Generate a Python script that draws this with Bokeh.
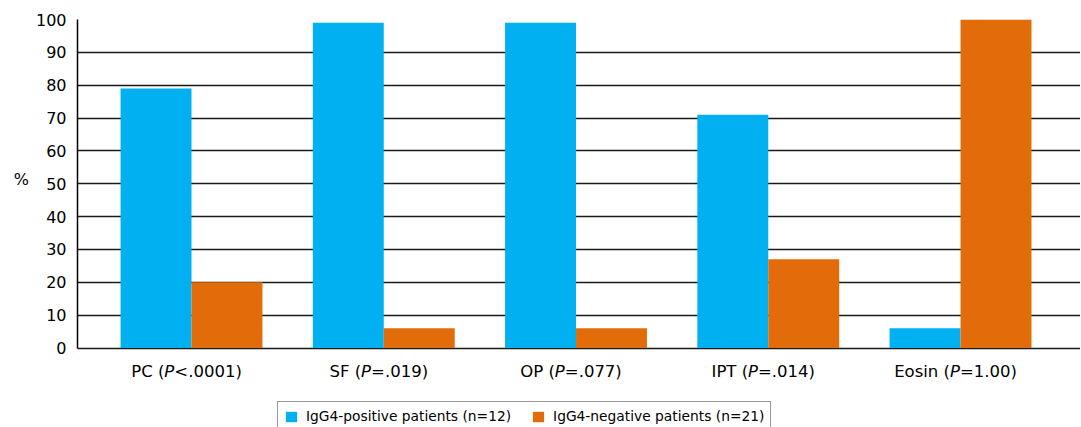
from bokeh.plotting import figure
from bokeh.models import Range1d, FixedTicker, Legend, LegendItem, ColumnDataSource
from bokeh.core.properties import value
from bokeh.embed import file_html
from bokeh.resources import INLINE

# ---- data ----
categories = ["PC", "SF", "OP", "IPT", "Eosin"]
p_texts = ["<.0001", "=.019", "=.077", "=.014", "=1.00"]
positive = [79, 99, 99, 71, 6]      # IgG4-positive patients (n=12), %
negative = [20, 6, 6, 27, 100]      # IgG4-negative patients (n=21), %
y_ticks = [0, 10, 20, 30, 40, 50, 60, 70, 80, 90, 100]
y_title = "%"
series_labels = ["IgG4-positive patients (n=12)", "IgG4-negative patients (n=21)"]

BLUE = "#00B0F0"
ORANGE = "#E36C0A"
FONT = "DejaVu Sans"
XFS = 16.5

# DejaVu Sans advance widths (em) used to lay out the mixed-style labels
W = {" ": .318, "(": .390, ")": .390, ".": .318, "<": .838, "=": .838,
     "C": .698, "E": .632, "F": .575, "I": .295, "O": .787, "P": .603,
     "S": .635, "T": .611, "i": .278, "n": .634, "o": .612, "s": .521}
for d in "0123456789":
    W[d] = .636

def tw(s, fs=XFS):
    return sum(W.get(c, .6) for c in s) * fs

idx = list(range(1, len(categories) + 1))
bw = 0.369
xb = [i - bw / 2 for i in idx]
xo = [i + bw / 2 for i in idx]

# frame: 100 units = 328.5 px; extra room below 0 holds the labels + legend
p = figure(width=1080, height=427, output_backend="svg", toolbar_location=None,
           x_range=Range1d(0.407, 5.624), y_range=Range1d(-24.2, 100),
           min_border_left=77, min_border_right=0, min_border_top=19,
           min_border_bottom=0)
p.outline_line_color = None
p.background_fill_color = "white"
p.xaxis.visible = False

rb = p.vbar(x=xb, top=positive, width=bw, bottom=0, fill_color=BLUE, line_color=None)
ro = p.vbar(x=xo, top=negative, width=bw, bottom=0, fill_color=ORANGE, line_color=None)

# y axis (blank lines lift the "%" to the middle of the 0-100 span)
p.yaxis.ticker = FixedTicker(ticks=y_ticks)
p.yaxis.bounds = (0, 100)
p.yaxis.axis_label = y_title + "\n \n \n \n "
p.yaxis.axis_label_orientation = "horizontal"
p.yaxis.axis_label_text_font = FONT
p.yaxis.axis_label_text_font_size = "16px"
p.yaxis.axis_label_text_line_height = 1.15
p.yaxis.axis_label_text_font_style = "normal"
p.yaxis.axis_label_text_color = "black"
p.yaxis.axis_label_standoff = 4
p.yaxis.major_label_text_font = FONT
p.yaxis.major_label_text_font_size = "16px"
p.yaxis.major_label_text_color = "black"
p.yaxis.major_label_standoff = 5
p.yaxis.major_tick_line_color = None
p.yaxis.minor_tick_line_color = None
p.yaxis.axis_line_color = "black"
p.yaxis.axis_line_width = 1.5

p.xgrid.grid_line_color = None
p.ygrid.grid_line_color = "#1a1a1a"
p.ygrid.grid_line_width = 1.3

# category labels with italic P
pre_t, p_t, suf_t, o_pre, o_p, o_suf = [], [], [], [], [], []
for cat, pt in zip(categories, p_texts):
    pre = cat + " ("
    suf = pt + ")"
    w_pre, w_p = tw(pre), tw("P")
    total = w_pre + w_p + tw(suf)
    x0 = -total / 2 - 5
    pre_t.append(pre); p_t.append("P"); suf_t.append(suf)
    o_pre.append(x0); o_p.append(x0 + w_pre); o_suf.append(x0 + w_pre + w_p)

zeros = [0] * len(idx)
src = ColumnDataSource(dict(x=idx, y=zeros, pre=pre_t, pp=p_t, suf=suf_t,
                            o_pre=o_pre, o_p=o_p, o_suf=o_suf))
common = dict(x="x", y="y", source=src, y_offset=23, text_font=value(FONT),
              text_font_size=f"{XFS}px", text_color="black",
              text_align="left", text_baseline="alphabetic")
p.text(text="pre", x_offset="o_pre", **common)
p.text(text="pp", x_offset="o_p", text_font_style="italic", **common)
p.text(text="suf", x_offset="o_suf", **common)

legend = Legend(items=[LegendItem(label=series_labels[0], renderers=[rb]),
                       LegendItem(label=series_labels[1], renderers=[ro])],
                orientation="horizontal", location=(200, -4),
                glyph_width=14, glyph_height=13, label_standoff=8, spacing=20,
                padding=6, margin=0, label_text_font=FONT,
                label_text_font_size="13.8px", label_text_color="black",
                border_line_color="#333333", border_line_width=1.5,
                background_fill_color="white", background_fill_alpha=1.0)
p.add_layout(legend, "center")

open("out.html", "w").write(file_html(p, INLINE))
